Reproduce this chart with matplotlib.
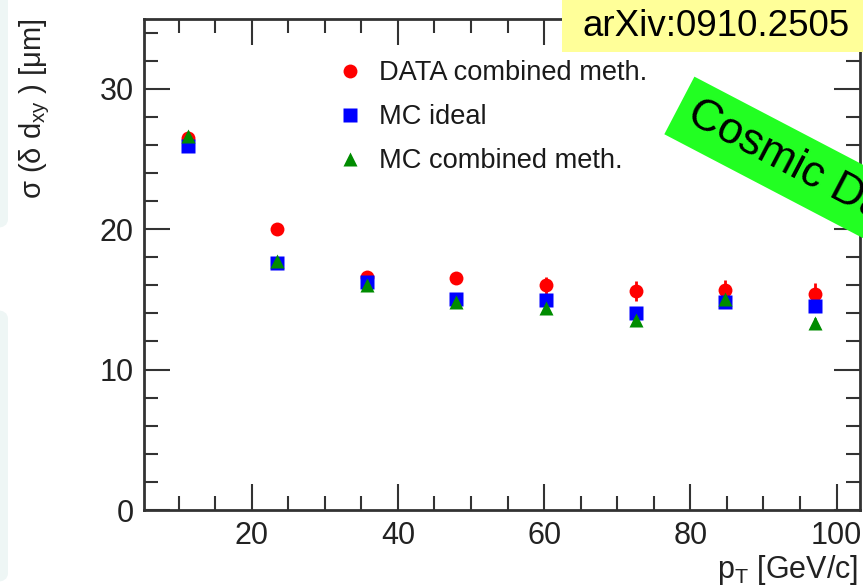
import matplotlib
matplotlib.use("Agg")
import matplotlib.pyplot as plt
from matplotlib.patches import FancyBboxPatch, Rectangle
from matplotlib.ticker import MultipleLocator

plt.rcParams['font.family'] = ['Liberation Sans', 'DejaVu Sans']
plt.rcParams['mathtext.fontset'] = 'custom'
plt.rcParams['mathtext.rm'] = 'Liberation Sans'
plt.rcParams['mathtext.default'] = 'regular'

# pT bin centres [GeV/c]
pt = [11.3, 23.5, 35.8, 48.0, 60.3, 72.5, 84.8, 97.0]

# sigma(delta d_xy) [um]
data_comb = [26.5, 20.0, 16.6, 16.5, 16.0, 15.6, 15.65, 15.4]
data_err = [0.2, 0.2, 0.25, 0.35, 0.6, 0.7, 0.7, 0.8]
mc_ideal = [25.9, 17.6, 16.25, 15.05, 14.95, 14.0, 14.8, 14.5]
mc_ideal_err = [0.15, 0.15, 0.15, 0.2, 0.2, 0.25, 0.25, 0.3]
mc_comb = [26.6, 17.7, 16.0, 14.8, 14.35, 13.5, 15.0, 13.3]
mc_comb_err = [0.15, 0.15, 0.15, 0.2, 0.2, 0.25, 0.25, 0.35]

labels = ["DATA combined meth.", "MC ideal", "MC combined meth."]

W, H = 863, 588
fig = plt.figure(figsize=(W / 100, H / 100), dpi=100)
ax = fig.add_axes([143.5 / W, 1 - 510 / H, (860 - 143.5) / W, (510 - 18.5) / H])

# error bars first, markers on top
ax.errorbar(pt, data_comb, yerr=data_err, fmt='none', ecolor='#ff0000', elinewidth=2, capsize=0)
ax.errorbar(pt, mc_ideal, yerr=mc_ideal_err, fmt='none', ecolor='#0000ff', elinewidth=2, capsize=0)
ax.errorbar(pt, mc_comb, yerr=mc_comb_err, fmt='none', ecolor='#008c00', elinewidth=2, capsize=0)
h1, = ax.plot(pt, data_comb, 'o', color='#ff0000', ms=10, mec='none', label=labels[0])
h2, = ax.plot(pt, mc_ideal, 's', color='#0000ff', ms=9.5, mec='none', label=labels[1])
h3, = ax.plot(pt, mc_comb, '^', color='#008c00', ms=10.5, mec='none', label=labels[2])

ax.set_xlim(5.2, 103.2)
ax.set_ylim(0, 35)
ax.xaxis.set_major_locator(MultipleLocator(20))
ax.xaxis.set_minor_locator(MultipleLocator(5))
ax.yaxis.set_major_locator(MultipleLocator(10))
ax.yaxis.set_minor_locator(MultipleLocator(2))
ax.tick_params(which='both', direction='in', top=True, right=True,
               color='#333333', width=1.5, labelsize=22, labelcolor='#222222')
ax.tick_params(which='major', length=19)
ax.tick_params(which='minor', length=10)
ax.tick_params(axis='x', pad=8)
ax.tick_params(axis='y', pad=7)
for s in ax.spines.values():
    s.set_linewidth(2)
    s.set_color('#333333')

leg = ax.legend(handles=[h1, h2, h3], loc='upper left', bbox_to_anchor=(0.235, 0.965),
                frameon=False, numpoints=1, fontsize=19.6, handlelength=1.0,
                handletextpad=0.55, labelspacing=0.66)
for t in leg.get_texts():
    t.set_color('#1a1a1a')

fig.text(858 / W, 1 - 570 / H, r'p$_{\mathrm{T}}$ [GeV/c]', ha='right', va='center',
         fontsize=22, color='#222222')
fig.text(35 / W, 1 - 18 / H, r'$\sigma$ ($\delta$ d$_{xy}$ ) [$\mu$m]', rotation=90,
         ha='center', va='top', fontsize=21, color='#222222')

# slide decorations
for y0, y1 in [(-20, 228), (310, 582)]:
    fig.patches.append(FancyBboxPatch((-20 / W, 1 - y1 / H), 28 / W, (y1 - y0) / H,
                                      boxstyle='round,pad=0,rounding_size=0.015',
                                      transform=fig.transFigure, fc='#eef6f5', ec='none'))
fig.patches.append(Rectangle((562 / W, 1 - 52 / H), 310 / W, 60 / H, transform=fig.transFigure,
                             fc='#ffff99', ec='none', zorder=5))
fig.text(716 / W, 1 - 27 / H, 'arXiv:0910.2505', ha='center', va='center', fontsize=26.5,
         color='black', zorder=6)
fig.text(690 / W, 1 - 111 / H, 'Cosmic Data', rotation=-27.6, rotation_mode='anchor',
         ha='left', va='center', fontsize=32, color='black', zorder=6,
         bbox=dict(boxstyle='square,pad=0.27', fc='#22ff22', ec='none'))

fig.savefig('out.png', dpi=100)
